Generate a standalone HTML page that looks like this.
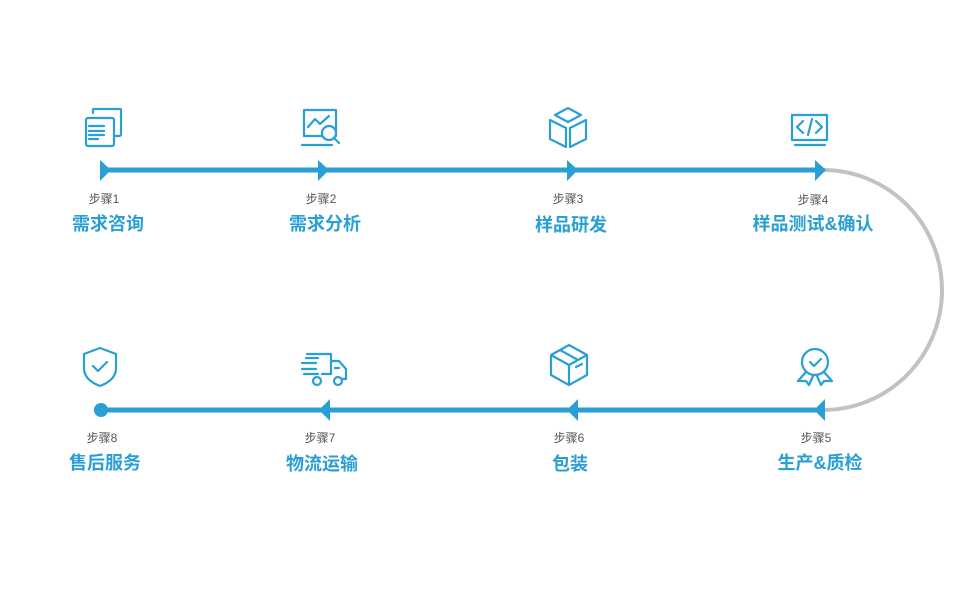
<!DOCTYPE html>
<html><head><meta charset="utf-8"><style>
html,body{margin:0;padding:0;background:#fff;}
svg{display:block;}
.s{font-family:"Liberation Sans","Noto Sans CJK SC",sans-serif;font-size:12px;fill:#555;text-anchor:middle;}
.t{font-family:"Liberation Sans","Noto Sans CJK SC",sans-serif;font-size:18px;font-weight:bold;fill:#2a9fd4;text-anchor:middle;}
.i{fill:none;stroke:#2a9fd4;stroke-width:2.2;stroke-linejoin:round;stroke-linecap:round;}
</style></head><body>
<svg width="970" height="600" viewBox="0 0 970 600" xmlns="http://www.w3.org/2000/svg">
<path d="M823 170 A119 120 0 0 1 823 410" fill="none" stroke="#c2c2c2" stroke-width="4"/>
<line x1="104" y1="170" x2="822" y2="170" stroke="#2a9fd4" stroke-width="5"/>
<line x1="101" y1="410" x2="822" y2="410" stroke="#2a9fd4" stroke-width="5"/>
<g fill="#2a9fd4">
<polygon points="100,160 111,170 100,181"/>
<polygon points="318,160 329,170 318,181"/>
<polygon points="567,160 578,170 567,181"/>
<polygon points="815,160 826,170 815,181"/>
<polygon points="330,399 319,410 330,421"/>
<polygon points="578,399 567,410 578,421"/>
<polygon points="825,399 814,410 825,421"/>
<circle cx="101" cy="410" r="7"/>
</g>
<g class="i">
<path d="M93 113 V110 Q93 109 94 109 H120 Q121 109 121 110 V134 Q121 136 119 136 H115"/>
<rect x="86" y="118" width="28" height="28" rx="2"/>
<path d="M89 126 H104 M89 131 H104 M89 135 H104 M89 139 H98"/>
<rect x="304" y="110" width="32" height="26"/>
<path d="M308 127 L315 119 L320 124 L329 116"/>
<circle cx="329" cy="133" r="7" fill="#fff"/>
<path d="M334 138 L339 143 M302 145 H332"/>
<path d="M568 108 L581 115 L568 122 L555 115 Z M550 120 L566 128 V147 L550 139 Z M586 120 L570 128 V147 L586 139 Z"/>
<rect x="792" y="115" width="35" height="25"/>
<path d="M803 121 L797 127 L803 133 M816 121 L822 127 L816 133 M812 119 L808 135 M795 145 H825"/>
</g>
<g class="i">
<path d="M100 348 L116 354 V368 Q116 380 100 386 Q84 380 84 368 V354 Z"/>
<path d="M93 366 L98 371 L107 362"/>
<path d="M307 354 H331 V374 H322 M331 361 H339 L346 369 V379 H342"/>
<path d="M306 358 H318 M302 363 H316 M302 369 H316 M304 374 H318"/>
<path d="M335 368 H339"/>
<circle cx="317" cy="381" r="4"/><circle cx="338" cy="381" r="4"/>
<path d="M569 345 L587 355 V375 L569 385 L551 375 V355 Z M551 355 L569 365 L587 355 M569 365 V385 M560 350 L578 360 M576 367 L582 364"/>
<circle cx="815" cy="362" r="13"/>
<path d="M810 362 L814 366 L821 359"/>
<path d="M806 372 L798 381 L806 381 L809 385 L813 376 M824 372 L832 381 L824 381 L821 385 L817 376"/>
</g>
<text class="s" x="104" y="203">步骤1</text>
<text class="t" x="108" y="230">需求咨询</text>
<text class="s" x="321" y="203">步骤2</text>
<text class="t" x="325" y="230">需求分析</text>
<text class="s" x="568" y="203">步骤3</text>
<text class="t" x="571" y="231">样品研发</text>
<text class="s" x="813" y="204">步骤4</text>
<text class="t" x="813" y="230">样品测试&amp;确认</text>
<text class="s" x="102" y="442">步骤8</text>
<text class="t" x="105" y="469">售后服务</text>
<text class="s" x="320" y="442">步骤7</text>
<text class="t" x="322" y="470">物流运输</text>
<text class="s" x="569" y="442">步骤6</text>
<text class="t" x="570" y="470">包装</text>
<text class="s" x="816" y="442">步骤5</text>
<text class="t" x="820" y="469">生产&amp;质检</text>
</svg>
</body></html>
